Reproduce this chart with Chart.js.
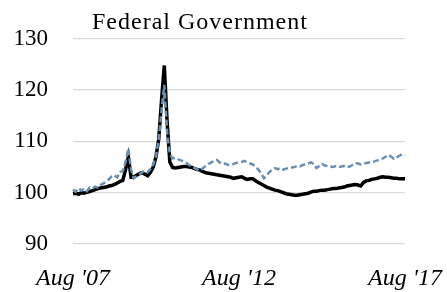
<!DOCTYPE html>
<html>
<head>
<meta charset="utf-8">
<script src="https://cdn.jsdelivr.net/npm/chart.js@4"></script>
<style>
  html, body { margin: 0; padding: 0; background: #fff; }
  #wrap { width: 447px; height: 292px; }
</style>
</head>
<body>
<div id="wrap"><canvas id="fedChart" width="447" height="292"></canvas></div>
<script>
// Monthly index, Aug 2007 = start (121 months to Aug 2017)
const tickLabels = ["Aug '07", "Aug '12", "Aug '17"];
const chartTitle = "Federal Government";

// solid black series
const fedSolid = [
  99.8, 99.9, 99.7, 100.0, 99.9, 100.1, 100.2, 100.4, 100.6, 100.8,
  100.9, 101.0, 101.1, 101.3, 101.4, 101.6, 101.9, 102.2, 102.4, 104.5,
  107.0, 103.0, 103.1, 103.4, 103.7, 103.9, 103.6, 103.3, 104.0, 105.0,
  107.0, 110.5, 118.0, 124.8, 114.0, 106.0, 104.9, 104.8, 104.9, 105.0,
  105.1, 105.1, 105.0, 104.9, 104.7, 104.5, 104.4, 104.1, 103.9, 103.8,
  103.7, 103.6, 103.5, 103.4, 103.3, 103.2, 103.1, 103.0, 102.8, 102.9,
  103.0, 103.1, 102.8, 102.6, 102.7, 102.7, 102.3, 102.0, 101.7, 101.4,
  101.1, 100.9, 100.7, 100.5, 100.4, 100.2, 100.0, 99.8, 99.7, 99.6,
  99.5, 99.5, 99.6, 99.7, 99.8, 99.9, 100.1, 100.3, 100.3, 100.4,
  100.5, 100.5, 100.6, 100.7, 100.8, 100.8, 100.9, 101.0, 101.1, 101.3,
  101.4, 101.5, 101.6, 101.5, 101.3, 102.0, 102.3, 102.4, 102.6, 102.7,
  102.8, 103.0, 103.1, 103.0, 103.0, 102.9, 102.8, 102.8, 102.7, 102.7,
  102.7
];

// dashed blue series
const fedDashed = [
  100.6, 100.2, 100.9, 100.4, 100.8, 100.3, 101.0, 100.8, 101.2, 101.0,
  101.5, 101.8, 102.2, 102.6, 103.2, 103.4, 103.0, 104.0, 104.2, 106.0,
  108.6, 104.5, 102.8, 103.2, 103.6, 104.0, 104.3, 104.0, 104.6, 105.5,
  107.0, 110.5, 116.0, 121.0, 112.0, 107.5, 106.7, 106.8, 106.5, 106.3,
  106.1, 105.8, 105.4, 105.0, 104.8, 104.5, 104.3, 104.8, 105.2, 105.6,
  105.9, 106.2, 106.4, 105.9, 105.6, 105.7, 105.4, 105.5, 105.6, 105.8,
  105.9, 106.0, 106.2, 105.9, 105.7, 105.5, 105.1, 104.5, 103.8, 102.8,
  103.4, 104.0, 104.5, 104.8, 104.6, 104.8, 104.5, 104.7, 104.8, 104.9,
  105.0, 105.2, 105.1, 105.4, 105.5, 105.7, 105.9, 105.6, 104.8, 105.2,
  105.6, 105.3, 105.2, 105.1, 105.0, 105.2, 105.0, 105.1, 105.2, 105.0,
  105.1, 105.4, 105.8, 105.7, 105.5, 105.6, 105.8, 105.9, 106.0, 106.1,
  106.3, 106.5, 106.7, 107.0, 107.4, 107.0, 106.6, 106.9, 107.2, 107.5,
  107.3
];

// month categories (only used for the axis)
const monthNames = ["Jan","Feb","Mar","Apr","May","Jun","Jul","Aug","Sep","Oct","Nov","Dec"];
const months = [];
for (let i = 0; i < fedSolid.length; i++) {
    const m = (7 + i) % 12;
    const y = 2007 + Math.floor((7 + i) / 12);
    months.push(monthNames[m] + " " + y);
}

const serif = "'Liberation Serif', 'DejaVu Serif', serif";

// draws the title text inside the plot, upper left
const titlePlugin = {
    id: "innerTitle",
    afterDraw(chart) {
        const ctx = chart.ctx;
        ctx.save();
        ctx.font = "24px " + serif;
        ctx.letterSpacing = "1px";
        ctx.fillStyle = "#000";
        ctx.textBaseline = "alphabetic";
        ctx.fillText(chartTitle, 92, 29);
        ctx.restore();
    }
};

const ctx = document.getElementById("fedChart").getContext("2d");
new Chart(ctx, {
    type: "line",
    data: {
        labels: months,
        datasets: [
            {
                label: "Federal Government (solid)",
                data: fedSolid,
                borderColor: "#000000",
                borderWidth: 3.5,
                pointRadius: 0,
                tension: 0,
                fill: false,
                order: 1
            },
            {
                label: "Federal Government (dashed)",
                data: fedDashed,
                borderColor: "#6a8fb3",
                borderWidth: 2.5,
                borderDash: [6, 3],
                pointRadius: 0,
                tension: 0,
                fill: false,
                order: 0
            }
        ]
    },
    options: {
        responsive: false,
        animation: false,
        layout: { padding: { top: 37, right: 42, left: 0, bottom: 0 } },
        scales: {
            x: {
                type: "category",
                offset: false,
                grid: { display: false },
                border: { display: false },
                ticks: {
                    autoSkip: false,
                    maxRotation: 0,
                    padding: 12,
                    color: "#000",
                    font: { family: serif, size: 24, style: "italic" },
                    callback: function(value, index) {
                        return index % 60 === 0 ? tickLabels[index / 60] : null;
                    }
                },
                afterFit: function(scale) {
                    scale.height = 48;
                    scale.paddingLeft = 0;
                    scale.paddingRight = 0;
                }
            },
            y: {
                min: 90,
                max: 130,
                grid: { color: "#d9d9d9", lineWidth: 1.3, drawTicks: false },
                border: { display: false },
                ticks: {
                    stepSize: 10,
                    padding: 25,
                    color: "#000",
                    font: { family: serif, size: 23 }
                },
                afterFit: function(scale) { scale.width = 73; }
            }
        },
        plugins: {
            legend: { display: false },
            tooltip: { enabled: false },
            title: { display: false }
        }
    },
    plugins: [titlePlugin]
});
</script>
</body>
</html>
